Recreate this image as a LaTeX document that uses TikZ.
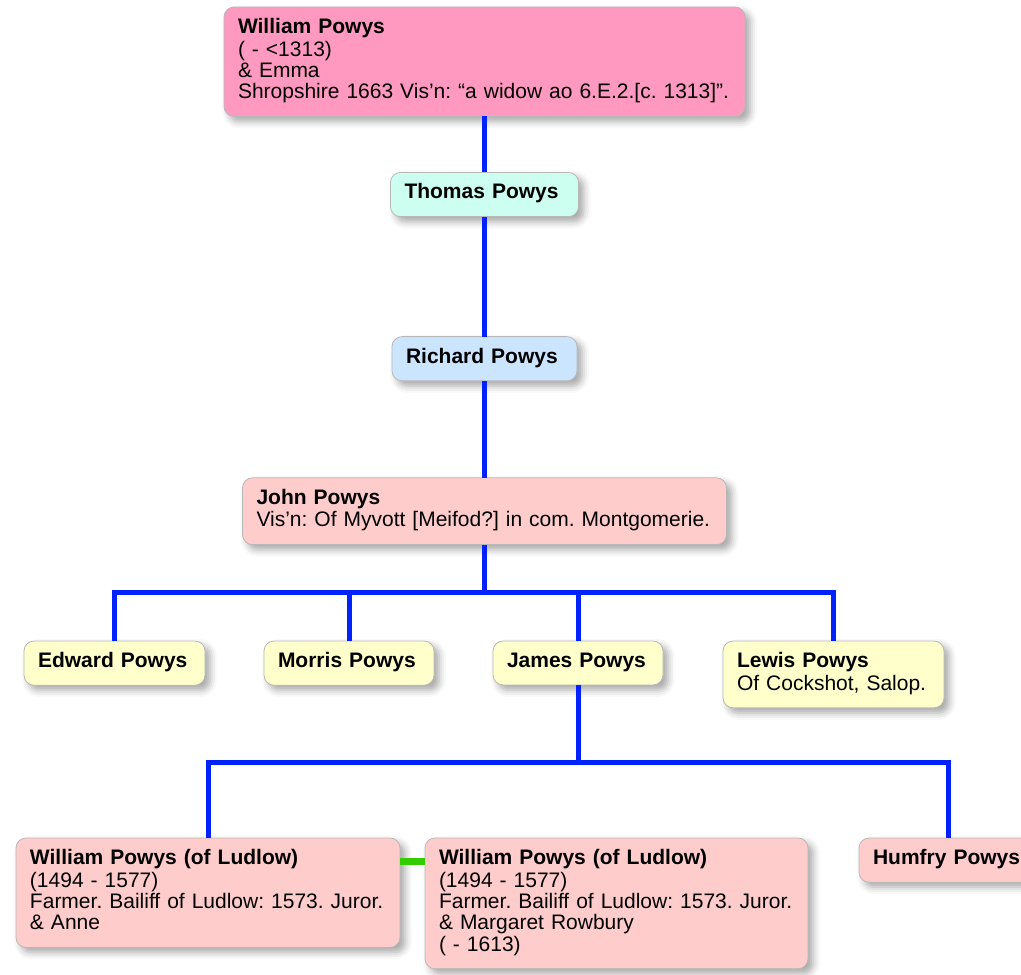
\documentclass[tikz,border=0pt]{standalone}
\usepackage{fontspec}
\setmainfont{Liberation Sans}
\usetikzlibrary{positioning,shadows.blur}

\definecolor{toppink}{RGB}{255,153,192}
\definecolor{mint}{RGB}{204,255,240}
\definecolor{skyblue}{RGB}{204,229,255}
\definecolor{rose}{RGB}{255,204,204}
\definecolor{cream}{RGB}{255,255,204}
\definecolor{lineblue}{RGB}{0,34,255}
\definecolor{linegreen}{RGB}{51,204,0}
\newcommand\boxfont{\fontsize{21}{21.3}\selectfont\frenchspacing\hyphenpenalty=10000\relax}

\begin{document}
\begin{tikzpicture}[x=1pt,y=-1pt,
	personbox/.style={rectangle,rounded corners=10pt,draw=black!28,line width=0.8pt,outer sep=0pt,align=left,inner xsep=14pt,inner ysep=11.3pt,font=\boxfont,execute at begin node=\strut,execute at end node=\strut,blur shadow={shadow xshift=5pt,shadow yshift=-5pt,shadow blur radius=7pt,shadow opacity=35}},
	famline/.style={draw=lineblue,line width=5pt},
	spouse/.style={draw=linegreen,line width=7pt}]
				\useasboundingbox (0,0) rectangle (1021,975);
				% ancestors
				\node (top) [personbox,fill=toppink,text width=493pt,anchor=north west] at (224,7) {\textbf{William Powys}\\( - <1313)\\\& Emma\\Shropshire 1663 Vis’n: “a widow ao 6.E.2.[c. 1313]”.};
				\node (thomas) [personbox,fill=mint,text width=160pt,below=56pt of top] {\textbf{Thomas Powys}};
				\node (richard) [personbox,fill=skyblue,text width=157pt,below=120pt of thomas] {\textbf{Richard Powys}};
				\node (john) [personbox,fill=rose,text width=456pt,below=97pt of richard] {\textbf{John Powys}\\Vis’n: Of Myvott [Meifod?] in com. Montgomerie.};
				% children of John
				\node (edward) [personbox,fill=cream,text width=153pt,anchor=north west] at (24,641) {\textbf{Edward Powys}};
				\node (morris) [personbox,fill=cream,text width=142pt,right=59pt of edward.north east,anchor=north west] {\textbf{Morris Powys}};
				\node (james) [personbox,fill=cream,text width=142pt,right=59pt of morris.north east,anchor=north west] {\textbf{James Powys}};
				\node (lewis) [personbox,fill=cream,text width=193pt,right=60pt of james.north east,anchor=north west] {\textbf{Lewis Powys}\\Of Cockshot, Salop.};
				% children of James
				\node (wone) [personbox,fill=rose,text width=356pt,anchor=north west] at (16,838) {\textbf{William Powys (of Ludlow)}\\(1494 - 1577)\\Farmer. Bailiff of Ludlow: 1573. Juror.\\\& Anne};
				\node (wtwo) [personbox,fill=rose,text width=355pt,right=25pt of wone.north east,anchor=north west] {\textbf{William Powys (of Ludlow)}\\(1494 - 1577)\\Farmer. Bailiff of Ludlow: 1573. Juror.\\\& Margaret Rowbury\\( - 1613)};
				\node (humfry) [personbox,fill=rose,text width=150pt,right=51pt of wtwo.north east,anchor=north west] {\textbf{Humfry Powys}};
				% lines of descent
				\path (john.south) ++(0,48) coordinate (jfam);
				\path (james.south) ++(0,78) coordinate (kfam);
				\draw [famline] (top) -- (thomas);
				\draw [famline] (thomas) -- (richard);
				\draw [famline] (richard) -- (john);
				\draw [famline] (john.south) -- (jfam);
				\draw [famline] (edward.north) |- (jfam) -| (lewis.north);
				\foreach \kid in {morris,james}
					\draw [famline] (\kid.north) -- (\kid.north |- jfam);
				\draw [famline] (james.south) -- (kfam);
				\draw [famline] (wone.north) |- (kfam) -| (humfry.north);
				\draw [spouse] ([yshift=-23pt]wone.north east) -- ([yshift=-23pt]wtwo.north west);
			\end{tikzpicture}
\end{document}
